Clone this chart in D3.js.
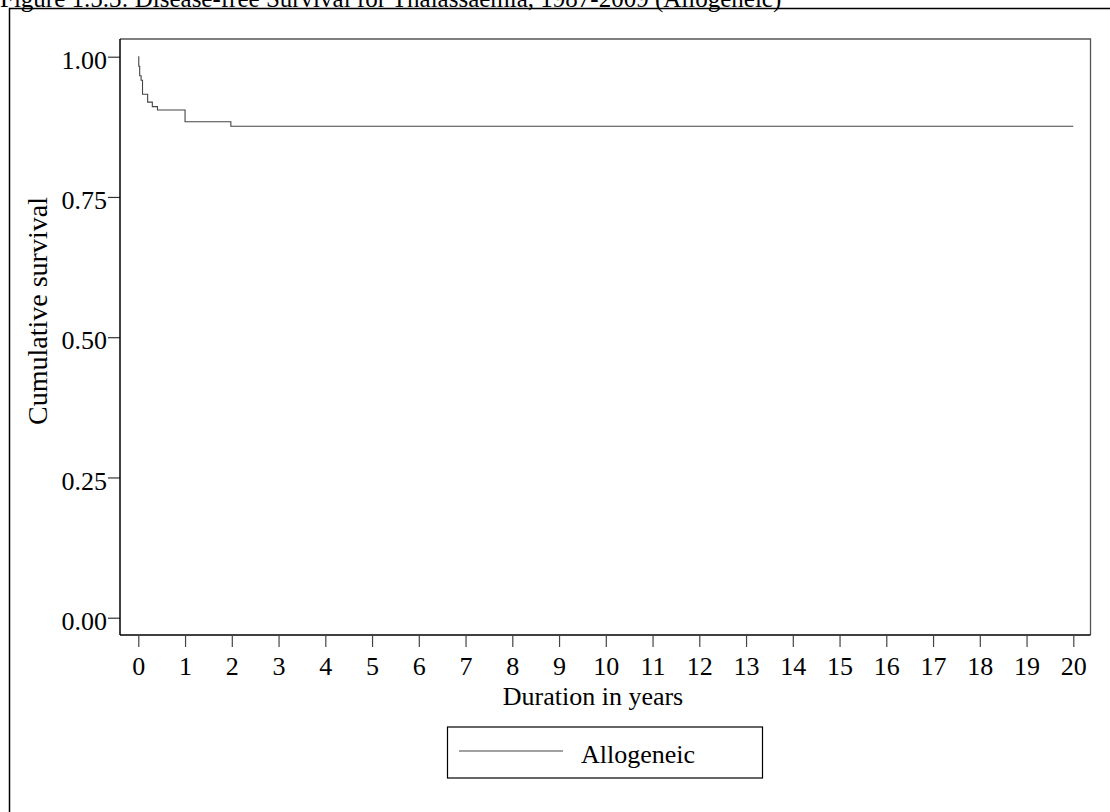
<!DOCTYPE html>
<html>
<head>
<meta charset="utf-8">
<script src="https://cdn.jsdelivr.net/npm/d3@7"></script>
<style>
  html, body { margin: 0; padding: 0; background: #fff; overflow: hidden; }
  svg { display: block; }
  text { font-family: "Liberation Serif", "Times New Roman", serif; fill: #000; }
</style>
</head>
<body>
<script>
// Kaplan-Meier step points: time in years and cumulative survival after each event
const eventTimes = [0, 0.01, 0.03, 0.06, 0.09, 0.20, 0.30, 0.41, 1.00, 1.98, 20];
const survival   = [1.000, 0.983, 0.966, 0.958, 0.933, 0.919, 0.911, 0.905, 0.884, 0.876, 0.876];

const xTicks = d3.range(0, 21);
const yTicks = [0, 0.25, 0.5, 0.75, 1.0];
const seriesName = "Allogeneic";
const titleText = "Figure 1.5.3: Disease-free Survival for Thalassaemia, 1987-2009 (Allogeneic)";
const xTitle = "Duration in years";
const yTitle = "Cumulative survival";

const W = 1110, H = 812;
const svg = d3.select("body").append("svg").attr("width", W).attr("height", H);

// plot frame and scales
const frame = { left: 120, top: 39, right: 1090.5, bottom: 635 };
const x = d3.scaleLinear().domain([0, 20]).range([138.3, 1073.3]);
const y = d3.scaleLinear().domain([0, 1]).range([617.7, 56.7]);

// title (partly above the page edge)
svg.append("text")
  .attr("x", 0).attr("y", 7)
  .attr("font-size", 25)
  .text(titleText);

// outer border
svg.append("rect")
  .attr("x", 9.5).attr("y", 8.5)
  .attr("width", W + 20).attr("height", H + 20)
  .attr("fill", "none").attr("stroke", "#000").attr("stroke-width", 1.5);

// plot box: top/right edges
svg.append("path")
  .attr("d", `M${frame.left},${frame.top}H${frame.right}V${frame.bottom}`)
  .attr("fill", "none").attr("stroke", "#555").attr("stroke-width", 1.3);

// y axis
const yAxis = d3.axisLeft(y).tickValues(yTicks).tickFormat(d3.format(".2f")).tickSize(12).tickPadding(1);
const gy = svg.append("g").attr("transform", `translate(${frame.left},0)`).call(yAxis);
gy.select(".domain").remove();
gy.selectAll(".tick line").attr("stroke", "#333").attr("stroke-width", 1.2);
gy.selectAll(".tick text").attr("font-size", 26).attr("font-family", "Liberation Serif").attr("fill", "#000").attr("dy", "0.45em");
gy.append("line")
  .attr("x1", 0).attr("x2", 0).attr("y1", frame.top).attr("y2", frame.bottom)
  .attr("stroke", "#000").attr("stroke-width", 1.5);

// x axis
const xAxis = d3.axisBottom(x).tickValues(xTicks).tickFormat(d3.format("d")).tickSize(11).tickPadding(10);
const gx = svg.append("g").attr("transform", `translate(0,${frame.bottom + 1})`).call(xAxis);
gx.select(".domain").remove();
gx.selectAll(".tick line").attr("stroke", "#444").attr("stroke-width", 1.2);
gx.selectAll(".tick text").attr("font-size", 26).attr("font-family", "Liberation Serif").attr("fill", "#000");
svg.append("line")
  .attr("x1", frame.left).attr("x2", frame.right).attr("y1", frame.bottom).attr("y2", frame.bottom)
  .attr("stroke", "#000").attr("stroke-width", 1.5);

// axis titles
svg.append("text")
  .attr("x", 593).attr("y", 705)
  .attr("text-anchor", "middle").attr("font-size", 26)
  .text(xTitle);
svg.append("text")
  .attr("transform", "translate(47,311) rotate(-90)")
  .attr("text-anchor", "middle").attr("font-size", 28)
  .text(yTitle);

// survival curve
const pts = eventTimes.map((t, i) => [t, survival[i]]);
const line = d3.line().x(d => x(d[0])).y(d => y(d[1])).curve(d3.curveStepAfter);
svg.append("path")
  .datum(pts)
  .attr("d", line)
  .attr("fill", "none").attr("stroke", "#444").attr("stroke-width", 1.1);

// legend
const lg = svg.append("g");
lg.append("rect")
  .attr("x", 447.5).attr("y", 727).attr("width", 315).attr("height", 51)
  .attr("fill", "none").attr("stroke", "#000").attr("stroke-width", 1.2);
lg.append("line")
  .attr("x1", 459).attr("x2", 563).attr("y1", 751).attr("y2", 751)
  .attr("stroke", "#444").attr("stroke-width", 1.1);
lg.append("text")
  .attr("x", 581).attr("y", 762.5).attr("font-size", 26)
  .text(seriesName);
</script>
</body>
</html>
